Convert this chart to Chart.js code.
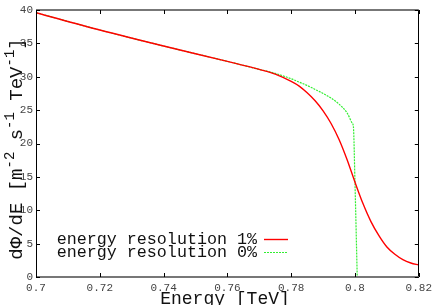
<!DOCTYPE html>
<html>
<head>
<meta charset="utf-8">
<script src="https://cdn.jsdelivr.net/npm/chart.js@4.4.1/dist/chart.umd.min.js"></script>
<style>
html,body{margin:0;padding:0;background:#fff;}
#wrap{width:436px;height:305px;position:relative;}
</style>
</head>
<body>
<div id="wrap"><canvas id="c" width="436" height="305"></canvas></div>
<script>
// ---- data ----
const redEnergy = [0.700, 0.720, 0.740, 0.760, 0.770, 0.775, 0.780, 0.7825, 0.785, 0.7875, 0.790, 0.7925, 0.795, 0.7975, 0.800, 0.8025, 0.805, 0.8075, 0.810, 0.8125, 0.815, 0.8175, 0.820];
const redFlux   = [39.6, 37.0, 34.6, 32.3, 31.1, 30.4, 29.3, 28.6, 27.6, 26.4, 24.9, 23.0, 20.6, 17.6, 14.2, 11.0, 8.3, 6.2, 4.5, 3.4, 2.6, 2.1, 1.8];
const greenEnergy = [0.700, 0.720, 0.740, 0.760, 0.770, 0.775, 0.780, 0.7825, 0.785, 0.7875, 0.790, 0.7925, 0.795, 0.7975, 0.7992, 0.7995, 0.8000, 0.8007];
const greenFlux   = [39.6, 37.0, 34.6, 32.3, 31.1, 30.5, 29.7, 29.2, 28.7, 28.1, 27.5, 26.8, 25.9, 24.6, 23.0, 22.5, 14.0, 0.0];
const seriesNames = ['energy resolution 1%', 'energy resolution 0%'];
const xTicks = [0.70, 0.72, 0.74, 0.76, 0.78, 0.80, 0.82];
const xTickLabels = ['0.7', '0.72', '0.74', '0.76', '0.78', '0.8', '0.82'];
const yTicks = [0, 5, 10, 15, 20, 25, 30, 35, 40];
const yTickLabels = ['0', '5', '10', '15', '20', '25', '30', '35', '40'];
const xTitle = 'Energy [TeV]';

const MONO = '"Liberation Mono", "DejaVu Sans Mono", monospace';

const toPts = (xs, ys) => xs.map((x, i) => ({x: x, y: ys[i]}));

const framePlugin = {
  id: 'frame',
  afterDraw(chart) {
    const ctx = chart.ctx;
    const a = chart.chartArea;
    const xs = chart.scales.x, ys = chart.scales.y;
    ctx.save();
    // frame
    ctx.strokeStyle = '#000';
    ctx.lineWidth = 1;
    ctx.beginPath();
    ctx.moveTo(Math.round(a.left) + 0.5, a.top);
    ctx.lineTo(Math.round(a.left) + 0.5, a.bottom);
    ctx.moveTo(Math.round(a.right) - 0.5, a.top);
    ctx.lineTo(Math.round(a.right) - 0.5, a.bottom);
    ctx.stroke();
    ctx.strokeStyle = '#777';
    ctx.lineWidth = 2;
    ctx.beginPath();
    ctx.moveTo(a.left, Math.round(a.top));
    ctx.lineTo(a.right, Math.round(a.top));
    ctx.moveTo(a.left, Math.round(a.bottom));
    ctx.lineTo(a.right, Math.round(a.bottom));
    ctx.stroke();
    // inward ticks
    ctx.strokeStyle = '#000';
    ctx.lineWidth = 1;
    ctx.beginPath();
    const tl = 4;
    xTicks.forEach(v => {
      const px = Math.round(xs.getPixelForValue(v)) + 0.5;
      ctx.moveTo(px, a.bottom); ctx.lineTo(px, a.bottom - tl);
      ctx.moveTo(px, a.top); ctx.lineTo(px, a.top + tl);
    });
    yTicks.forEach(v => {
      const py = Math.round(ys.getPixelForValue(v)) + 0.5;
      ctx.moveTo(a.left, py); ctx.lineTo(a.left + tl, py);
      ctx.moveTo(a.right, py); ctx.lineTo(a.right - tl, py);
    });
    ctx.stroke();

    // x title
    ctx.fillStyle = '#111';
    ctx.font = '18px ' + MONO;
    ctx.textAlign = 'center';
    ctx.textBaseline = 'alphabetic';
    ctx.fillText(xTitle, 225, 304);

    // y title with superscripts
    const segs = [
      ['dΦ/dE [m', false], ['-2', true], [' s', false], ['-1', true],
      [' TeV', false], ['-1', true], [']', false]
    ];
    const nf = '19px ' + MONO, sf = '14px ' + MONO;
    let total = 0;
    segs.forEach(s => { ctx.font = s[1] ? sf : nf; total += ctx.measureText(s[0]).width; });
    ctx.translate(22, 149 + total / 2);
    ctx.rotate(-Math.PI / 2);
    ctx.textAlign = 'left';
    let cx = 0;
    segs.forEach(s => {
      ctx.font = s[1] ? sf : nf;
      ctx.fillText(s[0], cx, s[1] ? -8 : 0);
      cx += ctx.measureText(s[0]).width;
    });
    ctx.restore();

    // legend
    ctx.save();
    ctx.font = '16.7px ' + MONO;
    ctx.fillStyle = '#111';
    ctx.textAlign = 'right';
    ctx.textBaseline = 'middle';
    const rows = [240, 252.5];
    chart.data.datasets.forEach((ds, i) => {
      ctx.fillText(seriesNames[i], 257, rows[i]);
      ctx.strokeStyle = ds.borderColor;
      ctx.lineWidth = ds.borderWidth;
      ctx.setLineDash(ds.borderDash || []);
      ctx.beginPath();
      ctx.moveTo(264, Math.round(rows[i] - 1) + 0.5);
      ctx.lineTo(288, Math.round(rows[i] - 1) + 0.5);
      ctx.stroke();
      ctx.setLineDash([]);
    });
    ctx.restore();
  }
};

new Chart(document.getElementById('c'), {
  type: 'line',
  data: {
    datasets: [
      {
        label: seriesNames[0],
        data: toPts(redEnergy, redFlux),
        borderColor: '#ff0000',
        borderWidth: 1.4,
        pointRadius: 0,
        cubicInterpolationMode: 'monotone',
        fill: false
      },
      {
        label: seriesNames[1],
        data: toPts(greenEnergy, greenFlux),
        borderColor: '#33ee33',
        borderWidth: 1.2,
        borderDash: [2, 1],
        pointRadius: 0,
        cubicInterpolationMode: 'monotone',
        fill: false
      }
    ]
  },
  options: {
    responsive: false,
    animation: false,
    events: [],
    layout: {padding: {top: 10, right: 16, left: 0, bottom: 0}},
    plugins: {legend: {display: false}, tooltip: {enabled: false}},
    scales: {
      x: {
        type: 'linear', min: 0.7, max: 0.82,
        afterBuildTicks: s => { s.ticks = xTicks.map(v => ({value: v})); },
        afterFit: s => { s.height = 28; },
        grid: {display: false, drawTicks: false},
        border: {display: false},
        ticks: {
          padding: 4,
          color: '#444',
          font: {family: MONO, size: 11},
          maxRotation: 0,
          callback: (v) => { const i = xTicks.findIndex(t => Math.abs(t - v) < 1e-9); return i >= 0 ? xTickLabels[i] : ''; }
        }
      },
      y: {
        type: 'linear', min: 0, max: 40,
        afterBuildTicks: s => { s.ticks = yTicks.map(v => ({value: v})); },
        afterFit: s => { s.width = 36; },
        grid: {display: false, drawTicks: false},
        border: {display: false},
        ticks: {
          padding: 3,
          color: '#444',
          font: {family: MONO, size: 11},
          callback: (v) => { const i = yTicks.indexOf(v); return i >= 0 ? yTickLabels[i] : ''; }
        }
      }
    }
  },
  plugins: [framePlugin]
});
</script>
</body>
</html>
